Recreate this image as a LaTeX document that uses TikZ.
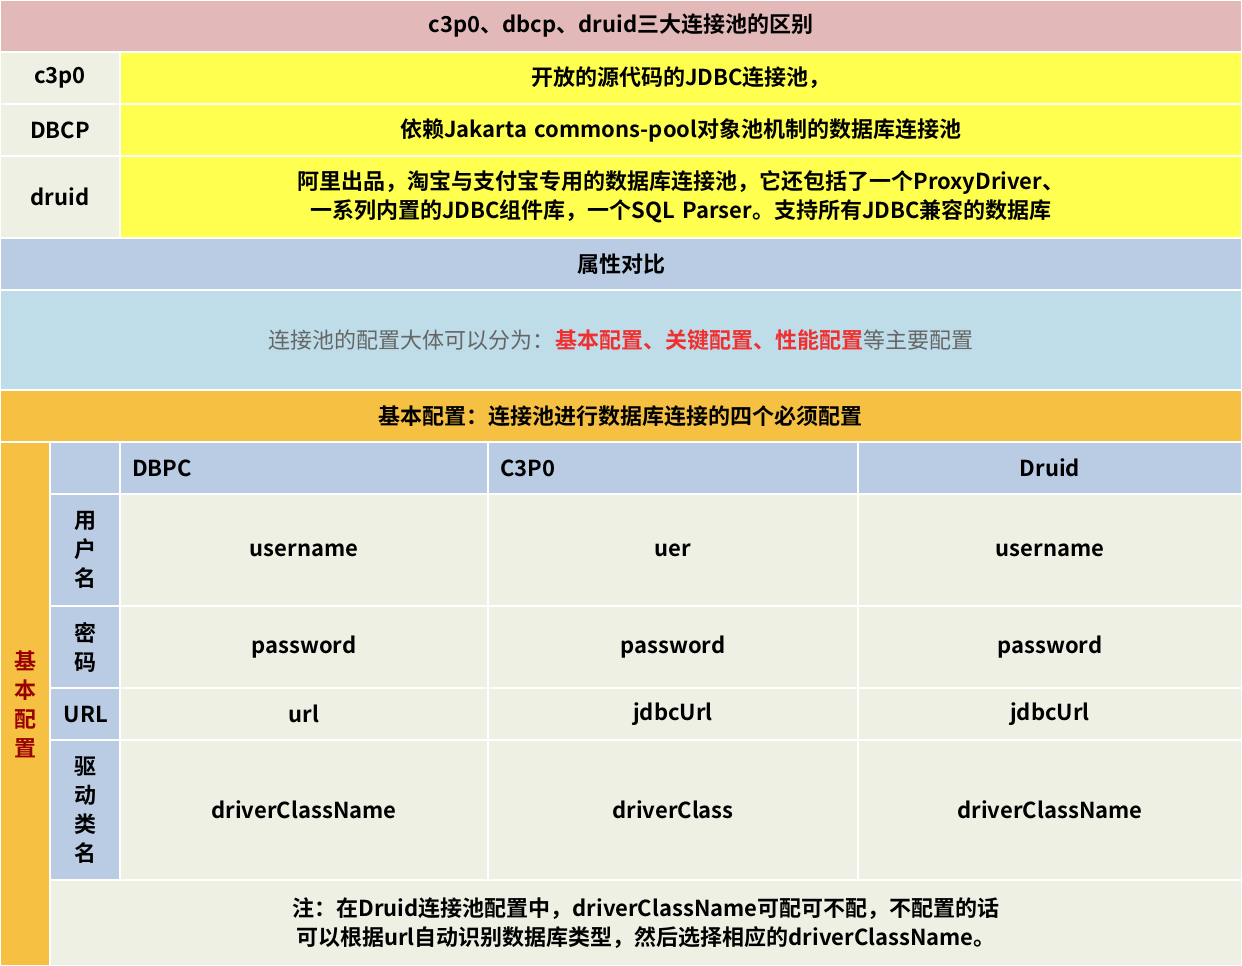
\documentclass[tikz,border=0pt]{standalone}
\usepackage{fontspec}
\setmainfont{Noto Sans CJK SC}[BoldFont={Noto Sans CJK SC Bold}]
\XeTeXlinebreaklocale "zh"
\XeTeXlinebreakskip = 0pt
\definecolor{cpink}{HTML}{E2B8B8}
\definecolor{cbeige}{HTML}{EEF0E3}
\definecolor{cyel}{HTML}{FFFF4F}
\definecolor{cblue}{HTML}{B9CCE4}
\definecolor{clblue}{HTML}{BEDDE8}
\definecolor{corange}{HTML}{F6C142}
\definecolor{cred}{HTML}{F03030}
\definecolor{cgrey}{HTML}{666666}
\begin{document}
\begin{tikzpicture}[x=1pt,y=-1pt,
  cellbox/.style={draw=white,line width=1.5pt},
  txt/.style={font=\fontsize{22}{29}\selectfont\bfseries,align=center,inner sep=0pt}]
\useasboundingbox (0,0) rectangle (1242,966);
\newcommand{\cell}[7]{% name x1 y1 x2 y2 color text
  \fill[#6,cellbox] (#2,#3) rectangle (#4,#5);
  \node[txt,text width={(#4-#2-20)*1pt}] (#1) at ({(#2+#4)/2},{(#3+#5)/2}) {#7};}
\cell{t}{0}{0}{1242}{52}{cpink}{c3p0、dbcp、druid三大连接池的区别}
\cell{l1}{0}{52}{120}{104}{cbeige}{c3p0}
\cell{v1}{120}{52}{1242}{104}{cyel}{开放的源代码的JDBC连接池，}
\cell{l2}{0}{104}{120}{156}{cbeige}{DBCP}
\cell{v2}{120}{104}{1242}{156}{cyel}{依赖Jakarta commons-pool对象池机制的数据库连接池}
\cell{l3}{0}{156}{120}{238}{cbeige}{druid}
\cell{v3}{120}{156}{1242}{238}{cyel}{阿里出品，淘宝与支付宝专用的数据库连接池，它还包括了一个ProxyDriver、一系列内置的JDBC组件库，一个SQL Parser。支持所有JDBC兼容的数据库}
\cell{p}{0}{238}{1242}{290}{cblue}{属性对比}
\cell{d}{0}{290}{1242}{390}{clblue}{\mdseries\color{cgrey}连接池的配置大体可以分为：\textcolor{cred}{\bfseries 基本配置、关键配置、性能配置}等主要配置}
\cell{b}{0}{390}{1242}{442}{corange}{基本配置：连接池进行数据库连接的四个必须配置}
\cell{bv}{0}{442}{50}{966}{corange}{}
\node[txt,text width=24pt,text=red!60!black] (bvt) at (25,704) {基\\本\\配\\置};
\cell{h0}{50}{442}{120}{494}{cblue}{}
\fill[cblue,cellbox] (120,442) rectangle (488,494);
\node[txt,anchor=west] (h1) at (132,468) {DBPC};
\fill[cblue,cellbox] (488,442) rectangle (858,494);
\node[txt,anchor=west] (h2) at (500,468) {C3P0};
\cell{h3}{858}{442}{1242}{494}{cblue}{Druid}
\cell{r1}{50}{494}{120}{606}{cblue}{用\\户\\名}
\cell{r1a}{120}{494}{488}{606}{cbeige}{username}
\cell{r1b}{488}{494}{858}{606}{cbeige}{uer}
\cell{r1c}{858}{494}{1242}{606}{cbeige}{username}
\cell{r2}{50}{606}{120}{688}{cblue}{密\\码}
\cell{r2a}{120}{606}{488}{688}{cbeige}{password}
\cell{r2b}{488}{606}{858}{688}{cbeige}{password}
\cell{r2c}{858}{606}{1242}{688}{cbeige}{password}
\fill[cblue,cellbox] (50,688) rectangle (120,740);
\node[txt] (r3) at (86,714) {URL};
\cell{r3a}{120}{688}{488}{740}{cbeige}{url}
\cell{r3b}{488}{688}{858}{740}{cbeige}{jdbcUrl}
\cell{r3c}{858}{688}{1242}{740}{cbeige}{jdbcUrl}
\cell{r4}{50}{740}{120}{880}{cblue}{驱\\动\\类\\名}
\cell{r4a}{120}{740}{488}{880}{cbeige}{driverClassName}
\cell{r4b}{488}{740}{858}{880}{cbeige}{driverClass}
\cell{r4c}{858}{740}{1242}{880}{cbeige}{driverClassName}
\cell{n}{50}{880}{1242}{966}{cbeige}{注：在Druid连接池配置中，driverClassName可配可不配，不配置的话可以根据url自动识别数据库类型，然后选择相应的driverClassName。}
\end{tikzpicture}
\end{document}
